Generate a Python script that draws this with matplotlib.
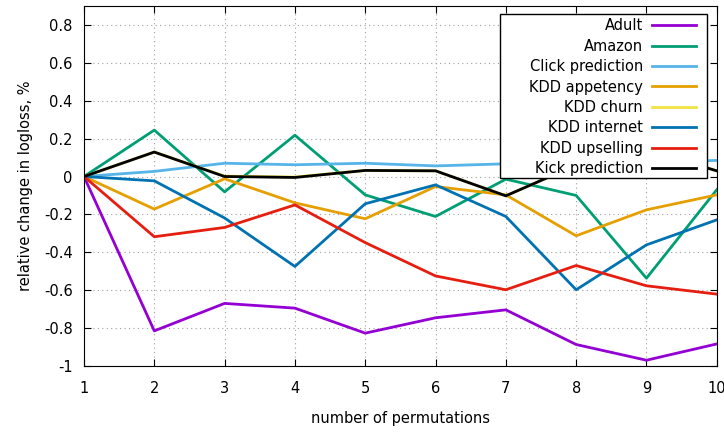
import numpy as np
import matplotlib
matplotlib.use("Agg")
import matplotlib.pyplot as plt
from matplotlib.patches import Rectangle

x = np.arange(1, 11)

adult = [0, -0.815, -0.67, -0.695, -0.827, -0.746, -0.704, -0.887, -0.97, -0.884]
amazon = [0, 0.245, -0.081, 0.218, -0.097, -0.211, -0.014, -0.10, -0.537, -0.07]
click = [0, 0.027, 0.07, 0.062, 0.07, 0.056, 0.067, 0.07, 0.075, 0.085]
appetency = [0, -0.172, -0.012, -0.139, -0.223, -0.053, -0.097, -0.313, -0.176, -0.097]
churn = [0, 0.129, 0.002, -0.003, 0.032, 0.03, -0.102, 0.06, 0.14, 0.03]
internet = [0, -0.023, -0.219, -0.475, -0.144, -0.044, -0.211, -0.598, -0.361, -0.229]
upselling = [0, -0.318, -0.269, -0.15, -0.349, -0.525, -0.598, -0.47, -0.577, -0.621]
kick = [0, 0.129, 0, -0.005, 0.032, 0.03, -0.102, 0.06, 0.14, 0.03]

series = [
    ("Adult", adult, "#9400d3"),
    ("Amazon", amazon, "#009e73"),
    ("Click prediction", click, "#56b4e9"),
    ("KDD appetency", appetency, "#e69f00"),
    ("KDD churn", churn, "#f0e442"),
    ("KDD internet", internet, "#0072b2"),
    ("KDD upselling", upselling, "#e51e10"),
    ("Kick prediction", kick, "black"),
]

plt.rcParams['font.size'] = 10.5
fig = plt.figure(figsize=(7.24, 4.32), dpi=100)
ax = fig.add_axes([0.116, 0.153, 0.874, 0.833])

for name, y, c in series:
    ax.plot(x, y, color=c, lw=2, label=name)

ax.set_xlim(1, 10)
ax.set_ylim(-1, 0.9)
ax.set_xticks(x)
ax.set_yticks(np.arange(-1, 0.81, 0.2))
ax.set_yticklabels(["-1", "-0.8", "-0.6", "-0.4", "-0.2", "0", "0.2", "0.4", "0.6", "0.8"])
ax.tick_params(direction="in", top=True, right=True, length=5)
ax.tick_params(axis="x", pad=11)
ax.tick_params(axis="y", pad=8)
ax.grid(True, linestyle=(0, (1, 3)), color="#a0a0a0", lw=0.8)
ax.set_xlabel("number of permutations", labelpad=11)
ax.set_ylabel("relative change in logloss, %", labelpad=8)

# gnuplot-style key box, wider than the text
ax.add_patch(Rectangle((0.657, 0.522), 0.327, 0.456, transform=ax.transAxes,
                       facecolor="white", edgecolor="black", lw=1, zorder=4))
leg = ax.legend(loc="upper right", bbox_to_anchor=(0.978, 0.986), markerfirst=False,
                frameon=False, handlelength=3, labelspacing=0.37, borderpad=0,
                handletextpad=0.6)
leg.set_zorder(5)

fig.savefig("out.png", dpi=100)
